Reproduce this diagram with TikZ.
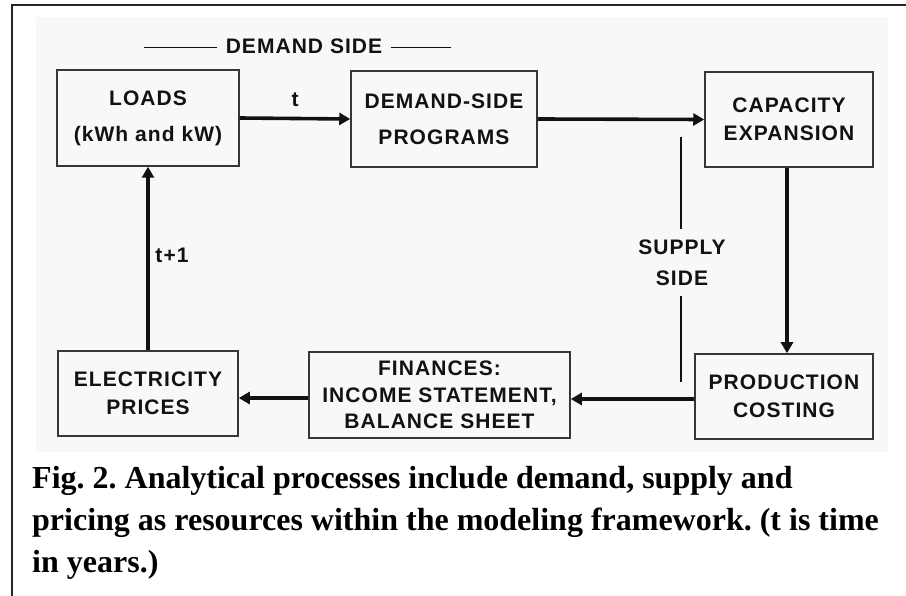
\documentclass[tikz,border=0pt]{standalone}
\usepackage{fontspec}
\setmainfont{Liberation Serif}
\newfontfamily\diagfont[LetterSpace=5]{Liberation Sans Bold}
\usetikzlibrary{arrows.meta}
\definecolor{ink}{HTML}{121212}
\definecolor{boxline}{HTML}{363636}
\definecolor{paper}{HTML}{F8F8F8}

\tikzset{
  stage/.style={draw=boxline, line width=1.5pt, align=center, text=ink, inner sep=0pt,
    font={\diagfont\fontsize{21}{28}\selectfont}},
  tallstage/.style={stage, font={\diagfont\fontsize{21}{36}\selectfont}},
  flow/.style={draw=ink, line width=3.6pt, -{Triangle[length=11pt,width=12pt]}},
  lbl/.style={text=ink, inner sep=0pt, align=center,
    font={\diagfont\fontsize{21}{31}\selectfont}},
  divider/.style={draw=ink, line width=1.4pt},
  frame/.style={draw=black!85, line width=2pt},
  captionline/.style={anchor=base west, inner sep=0pt, text=black,
    font={\bfseries\fontsize{32}{42}\selectfont}}
}

\begin{document}
\frenchspacing
\begin{tikzpicture}[x=1pt,y=-1pt]
  \useasboundingbox (0,0) rectangle (906,596);
  \fill[white] (0,0) rectangle (906,596);

  % scanned figure area
  \fill[paper] (36,17) rectangle (888,452);

  % outer frame (top and left rules)
  \draw[frame] (12,596) -- (12,5) -- (906,5);

  % process boxes
  \node[tallstage, minimum width=182pt, minimum height=96pt] (loads) at (148,118) {LOADS\\(kWh and kW)};
  \node[tallstage, minimum width=186pt, minimum height=96pt] (dsp) at (444,119) {DEMAND-SIDE\\PROGRAMS};
  \node[stage, minimum width=168pt, minimum height=95pt] (cap) at (789,119.5) {CAPACITY\\EXPANSION};
  \node[stage, minimum width=178pt, minimum height=85pt] (prod) at (784,396.5) {PRODUCTION\\COSTING};
  \node[stage, minimum width=261pt, minimum height=86pt,
        font={\diagfont\fontsize{21}{26.5}\selectfont}] (fin) at (439.5,395) {FINANCES:\\INCOME STATEMENT,\\BALANCE SHEET};
  \node[stage, minimum width=180pt, minimum height=85pt] (elec) at (148,393.5) {ELECTRICITY\\PRICES};

  % flow arrows
  \draw[flow] (loads.east) -- (dsp.west);
  \draw[flow] (dsp.east) -- (cap.west);
  \draw[flow] ([xshift=-2pt]cap.south) -- ([xshift=-2pt]cap.south |- prod.north);
  \draw[flow] ([yshift=-2.5pt]prod.west) -- ([yshift=-2.5pt]prod.west -| fin.east);
  \draw[flow] ([yshift=-3pt]fin.west) -- ([yshift=-3pt]fin.west -| elec.east);
  \draw[flow] (elec.north) -- (elec.north |- loads.south);

  % time labels
  \node[lbl] (tnow) at (295,100) {t};
  \node[lbl] (tnext) at (172,255) {t+1};

  % demand side heading
  \node[lbl] (demand) at (304,46) {DEMAND SIDE};
  \coordinate (dl) at (144,47.5);
  \coordinate (dr) at (451,47.5);
  \draw[divider] (dl) -- ([xshift=-9pt]dl -| demand.west);
  \draw[divider] ([xshift=9pt]dr -| demand.east) -- (dr);

  % supply side divider
  \node[lbl] (supply) at (682,262.5) {SUPPLY\\SIDE};
  \coordinate (stop) at (681,137);
  \coordinate (sbot) at (681,382);
  \draw[divider] (stop) -- ([yshift=10pt]stop |- supply.north);
  \draw[divider] ([yshift=-10pt]sbot |- supply.south) -- (sbot);

  % caption
  \node[captionline] (cap1) at (32,488) {Fig. 2. Analytical processes include demand, supply and};
  \node[captionline] (cap2) at (32,530) {pricing as resources within the modeling framework. (t is time};
  \node[captionline] (cap3) at (32,572) {in years.)};
\end{tikzpicture}
\end{document}
